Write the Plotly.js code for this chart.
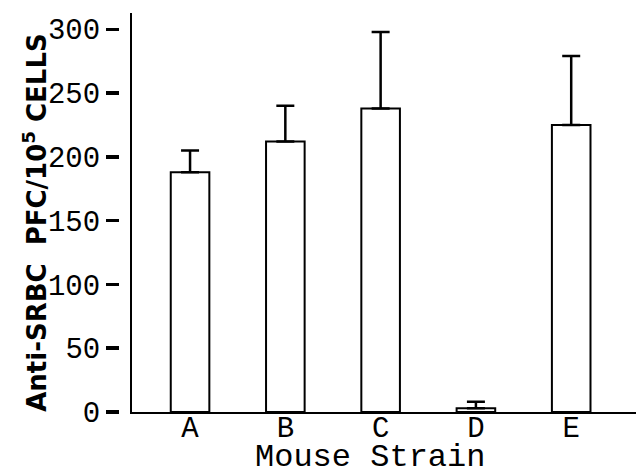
<!DOCTYPE html>
<html>
<head>
<meta charset="utf-8">
<script src="https://cdn.plot.ly/plotly-3.0.1.min.js"></script>
<style>html,body{margin:0;padding:0;background:#fff;}#chart{width:636px;height:472px;}</style>
</head>
<body>
<div id="chart"></div>
<script>
const strains = ['A', 'B', 'C', 'D', 'E'];
const pfcMeans = [188, 212, 238, 3, 225];
const pfcErrors = [17, 28, 60, 5, 54];
const yTickValues = [0, 50, 100, 150, 200, 250, 300];
const yTitleText = 'Anti-SRBC  PFC/10<sup>5</sup> CELLS';
const xTitleText = 'Mouse Strain';

const mono = 'Liberation Mono, Courier New, monospace';

const trace = {
  type: 'bar',
  x: strains,
  y: pfcMeans,
  width: 0.405,
  marker: {color: '#ffffff', line: {color: '#000000', width: 2}},
  error_y: {type: 'data', array: pfcErrors, arrayminus: pfcErrors.map(() => 0), symmetric: false,
            color: '#000000', thickness: 2.5, width: 9},
  hoverinfo: 'none'
};

const yr = [0, 312.8];
const layout = {
  width: 636, height: 472,
  margin: {l: 119, r: 0, t: 13, b: 60},
  paper_bgcolor: '#ffffff', plot_bgcolor: '#ffffff',
  showlegend: false,
  xaxis: {
    domain: [0.025, 1],
    range: [-0.61, 4.68],
    showline: true, linecolor: '#000', linewidth: 2,
    ticks: '', showgrid: false, zeroline: false,
    tickfont: {family: mono, size: 29, color: '#000'},
    ticklabelstandoff: -12
  },
  yaxis: {
    range: yr, anchor: 'x',
    showline: true, linecolor: '#000', linewidth: 2,
    ticks: '', showticklabels: false, showgrid: false, zeroline: false
  },
  yaxis2: {
    range: yr, overlaying: 'y', anchor: 'free', position: 0,
    showline: false, showgrid: false, zeroline: false,
    tickmode: 'array', tickvals: yTickValues,
    ticks: 'outside', ticklen: 13, tickwidth: 3.5, tickcolor: '#000',
    tickfont: {family: mono, size: 29, color: '#000'}
  },
  annotations: [
    {text: xTitleText, xref: 'paper', yref: 'paper', x: 0.485, y: -0.115,
     xanchor: 'center', yanchor: 'middle', showarrow: false,
     font: {family: mono, size: 32, color: '#000'}},
    {text: yTitleText, xref: 'paper', yref: 'paper', x: -0.163, y: 0.476,
     xanchor: 'center', yanchor: 'middle', textangle: -90, showarrow: false,
     font: {family: 'DejaVu Sans, sans-serif', size: 26, color: '#000', weight: 'bold'}}
  ]
};

const ghost = {type: 'scatter', x: [strains[0]], y: [null], yaxis: 'y2', hoverinfo: 'none', showlegend: false};

Plotly.newPlot('chart', [trace, ghost], layout, {displayModeBar: false, staticPlot: true});
</script>
</body>
</html>
